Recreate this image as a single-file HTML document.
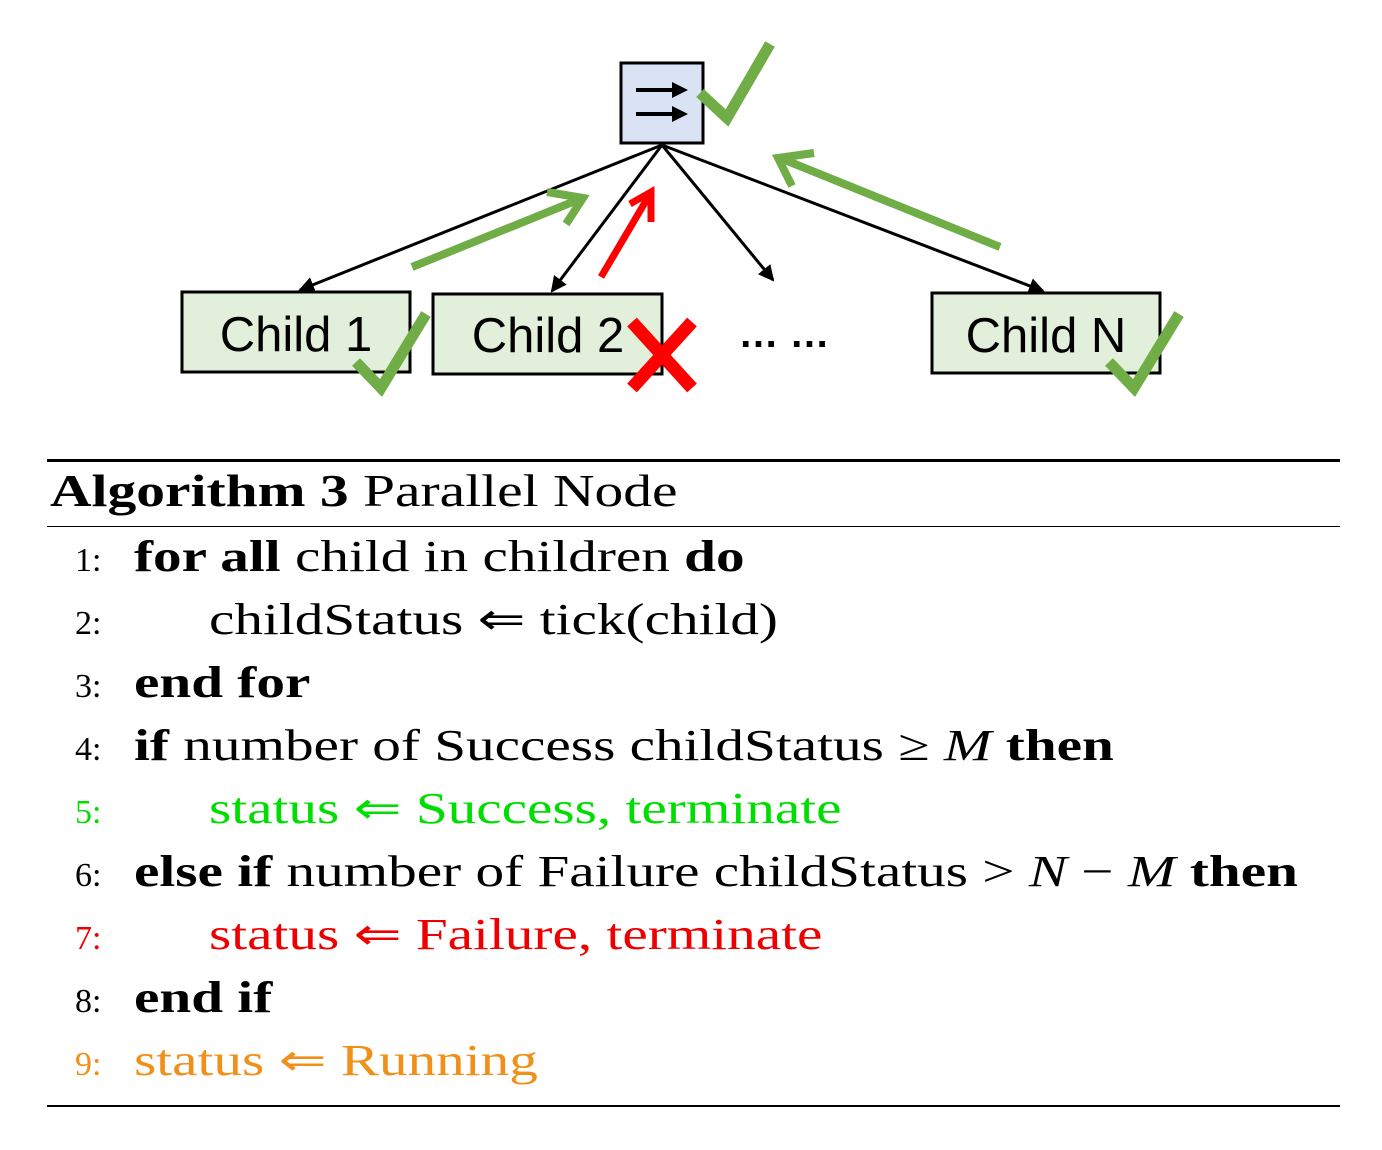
<!DOCTYPE html>
<html><head><style>
body{margin:0;background:#fff;width:1382px;height:1150px;position:relative;overflow:hidden;font-family:"Liberation Serif",serif;}
.l{position:absolute;left:0;white-space:nowrap;font-size:44px;line-height:50px;}
.n{position:absolute;left:75px;font-size:34px;top:4px;}
.t{position:absolute;left:134px;transform:scaleX(1.3);transform-origin:0 0;}
.i{left:209px;}
b{font-weight:bold;}
.rule{position:absolute;left:47px;width:1293px;background:#000;}
</style></head><body>
<svg width="1382" height="420" style="position:absolute;left:0;top:0">
<defs>
<marker id="ab" markerWidth="16" markerHeight="16" refX="14" refY="8" orient="auto" markerUnits="userSpaceOnUse"><path d="M0,0 L16,8 L0,16 Z" fill="#000"/></marker>
</defs>
<g stroke="#000" stroke-width="3" fill="none">
<line x1="662" y1="145" x2="300" y2="290" marker-end="url(#ab)"/>
<line x1="662" y1="145" x2="552" y2="291" marker-end="url(#ab)"/>
<line x1="662" y1="145" x2="773" y2="280" marker-end="url(#ab)"/>
<line x1="662" y1="145" x2="1043" y2="291" marker-end="url(#ab)"/>
</g>
<rect x="621" y="63" width="82" height="80" fill="#dae3f3" stroke="#000" stroke-width="3"/>
<g stroke="#000" stroke-width="4"><line x1="636" y1="90" x2="676" y2="90"/><line x1="636" y1="114" x2="676" y2="114"/></g>
<path d="M672,82 L688,90 L672,98Z M672,106 L688,114 L672,122Z" fill="#000"/>
<rect x="182" y="292" width="228" height="80" fill="#e2efda" stroke="#000" stroke-width="3"/>
<rect x="433" y="294" width="229" height="80" fill="#e2efda" stroke="#000" stroke-width="3"/>
<rect x="932" y="293" width="228" height="80" fill="#e2efda" stroke="#000" stroke-width="3"/>
<g font-family="Liberation Sans, sans-serif" font-size="49" fill="#000" text-anchor="middle">
<text x="296" y="351">Child 1</text><text x="548" y="352">Child 2</text><text x="1046" y="352">Child N</text>
<text x="784" y="347" font-size="40" font-weight="bold">… …</text>
</g>
<g stroke="#70ad47" stroke-width="8" fill="none">
<line x1="412" y1="267" x2="580" y2="199"/><polyline points="547,192 583,198 566,224"/>
<line x1="1000" y1="247" x2="780" y2="158"/><polyline points="814,153 778,158 792,186"/>
</g>
<g stroke="#f00" stroke-width="7" fill="none">
<line x1="601" y1="277" x2="650" y2="194"/><polyline points="630,204 651,192 651,222"/>
</g>
<g stroke="#70ad47" stroke-width="11" fill="none" stroke-linejoin="miter">
<polyline points="700,93 727,118 770,44"/>
<polyline points="356,362 381,388 426,314"/>
<polyline points="1109,362 1134,388 1179,314"/>
</g>
<g stroke="#f00" stroke-width="13"><line x1="632" y1="322" x2="692" y2="388"/><line x1="692" y1="322" x2="632" y2="388"/></g>
</svg>
<div class="rule" style="top:459px;height:3px"></div>
<div class="l" style="top:466px;left:50px;font-size:46px;transform:scaleX(1.25);transform-origin:0 0"><b>Algorithm 3</b> Parallel Node</div>
<div class="rule" style="top:526px;height:1px"></div>
<div class="rule" style="top:1105px;height:2px"></div>
<div class="l" style="top:532px"><span class="n">1:</span><span class="t"><b>for all</b> child in children <b>do</b></span></div>
<div class="l" style="top:595px"><span class="n">2:</span><span class="t i">childStatus ⇐ tick(child)</span></div>
<div class="l" style="top:658px"><span class="n">3:</span><span class="t"><b>end for</b></span></div>
<div class="l" style="top:721px"><span class="n">4:</span><span class="t"><b>if</b> number of Success childStatus ≥ <i>M</i> <b>then</b></span></div>
<div class="l" style="top:784px;color:#00dd00"><span class="n">5:</span><span class="t i">status ⇐ Success, terminate</span></div>
<div class="l" style="top:847px"><span class="n">6:</span><span class="t"><b>else if</b> number of Failure childStatus &gt; <i>N</i> − <i>M</i> <b>then</b></span></div>
<div class="l" style="top:910px;color:#ee0000"><span class="n">7:</span><span class="t i">status ⇐ Failure, terminate</span></div>
<div class="l" style="top:973px"><span class="n">8:</span><span class="t"><b>end if</b></span></div>
<div class="l" style="top:1036px;color:#f0901a"><span class="n">9:</span><span class="t">status ⇐ Running</span></div>
</body></html>
